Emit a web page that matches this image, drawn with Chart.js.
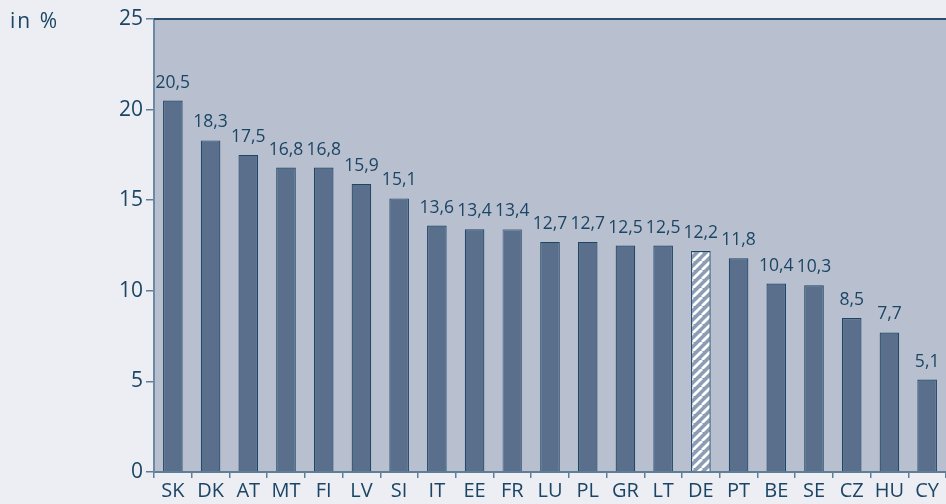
<!DOCTYPE html>
<html>
<head>
<meta charset="utf-8">
<script src="https://cdn.jsdelivr.net/npm/chart.js@4"></script>
<style>
  html, body { margin: 0; padding: 0; background: #eceef4; }
  #wrap { width: 946px; height: 504px; }
</style>
</head>
<body>
<div id="wrap"><canvas id="c" width="946" height="504"></canvas></div>
<script>
const countries = ['SK','DK','AT','MT','FI','LV','SI','IT','EE','FR','LU','PL','GR','LT','DE','PT','BE','SE','CZ','HU','CY'];
const shares = [20.5,18.3,17.5,16.8,16.8,15.9,15.1,13.6,13.4,13.4,12.7,12.7,12.5,12.5,12.2,11.8,10.4,10.3,8.5,7.7,5.1];
const yTicks = [0,5,10,15,20,25];
const unitLabel = 'in %';

const TEXT = '#1b4564';
const BAR = '#5a6f8c';
const EDGE = '#1d4565';
const PLOT_BG = '#b8c0d0';
const FONT = "'Open Sans', 'Noto Sans', sans-serif";

// diagonal white stripes for the highlighted country
function makeHatch() {
  const s = 9;
  const p = document.createElement('canvas');
  p.width = s; p.height = s;
  const g = p.getContext('2d');
  g.fillStyle = '#8c9cb4';
  g.fillRect(0, 0, s, s);
  g.strokeStyle = '#ffffff';
  g.lineWidth = 2.8;
  g.beginPath();
  for (let k = -1; k <= 1; k++) {
    g.moveTo(k * s, s);
    g.lineTo(k * s + s, 0);
  }
  g.stroke();
  return document.getElementById('c').getContext('2d').createPattern(p, 'repeat');
}
const hatch = makeHatch();

const fills = countries.map(c => c === 'DE' ? hatch : BAR);
const borders = countries.map(c => c === 'FR' ? BAR : EDGE);

const frame = {
  id: 'frame',
  beforeDraw(chart) {
    const { ctx, chartArea: a } = chart;
    ctx.save();
    ctx.fillStyle = PLOT_BG;
    ctx.fillRect(a.left, a.top, a.right - a.left, a.bottom - a.top);
    ctx.restore();
  },
  afterDraw(chart) {
    const { ctx, chartArea: a } = chart;
    ctx.save();
    ctx.strokeStyle = '#2c4d68';
    ctx.lineWidth = 2;
    ctx.beginPath();
    ctx.moveTo(a.left, a.top);
    ctx.lineTo(a.right, a.top);
    ctx.stroke();
    ctx.fillStyle = TEXT;
    ctx.font = '380 21px ' + FONT;
    ctx.textBaseline = 'alphabetic';
    ctx.textAlign = 'left';
    ctx.letterSpacing = '2px';
    ctx.fillText(unitLabel, 10, 28);
    // value labels above the bars
    const meta = chart.getDatasetMeta(0);
    ctx.font = '380 17.5px ' + FONT;
    ctx.letterSpacing = '0px';
    ctx.textAlign = 'center';
    meta.data.forEach((bar, i) => {
      ctx.fillText(String(shares[i]).replace('.', ','), bar.x, bar.y - 13);
    });
    ctx.restore();
  }
};

new Chart(document.getElementById('c'), {
  type: 'bar',
  data: {
    labels: countries,
    datasets: [{
      data: shares,
      backgroundColor: fills,
      borderColor: borders,
      borderWidth: 1.2,
      barPercentage: 0.52,
      categoryPercentage: 1
    }]
  },
  options: {
    responsive: false,
    animation: false,
    layout: { padding: { top: 19, right: 0, left: 0, bottom: 0 } },
    plugins: { legend: { display: false }, tooltip: { enabled: false } },
    scales: {
      x: {
        offset: true,
        grid: { display: true, drawOnChartArea: false, offset: true, tickLength: 6, color: '#5f7f99', lineWidth: 1.5 },
        border: { display: true, color: '#5f7f99', width: 2 },
        ticks: { color: TEXT, font: { family: FONT, size: 20, weight: 380 }, padding: 1, maxRotation: 0, autoSkip: false },
        afterFit(s) { s.height = 32; }
      },
      y: {
        min: 0, max: 25,
        afterBuildTicks(s) { s.ticks = yTicks.map(v => ({ value: v })); },
        grid: { display: true, drawOnChartArea: false, tickLength: 8, color: '#5f7f99', lineWidth: 1.5 },
        border: { display: true, color: '#6d8aa3', width: 2 },
        ticks: { color: TEXT, font: { family: FONT, size: 21, weight: 380 }, padding: 3 },
        afterFit(s) { s.width = 154; }
      }
    }
  },
  plugins: [frame]
});
</script>
</body>
</html>
